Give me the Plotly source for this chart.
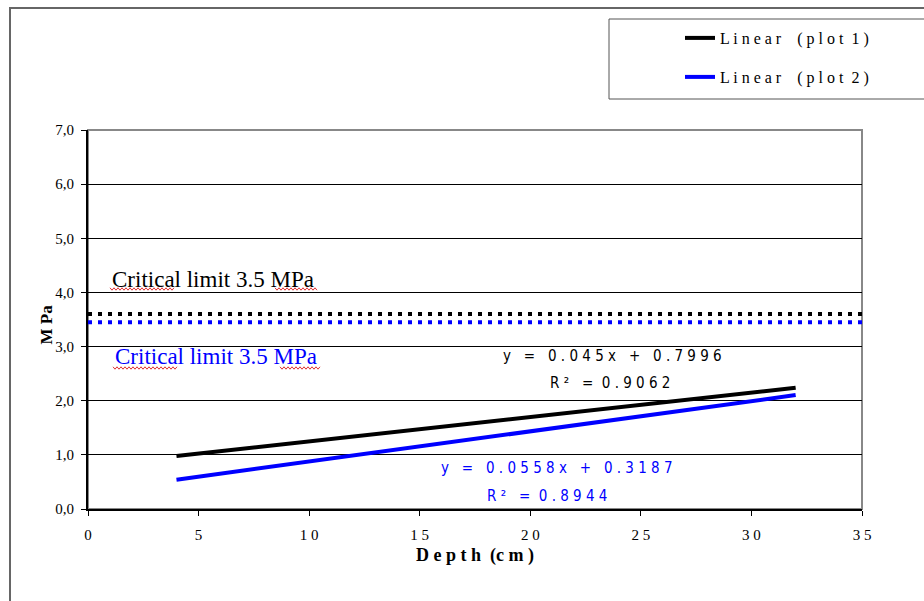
import plotly.graph_objects as go

# Depth range of the two regression fits (cm)
fit_depth = [4, 32]
# Linear fit coefficients: slope, intercept, R^2
plot1_fit = {"slope": 0.045, "intercept": 0.7996, "r2": 0.9062}
plot2_fit = {"slope": 0.0558, "intercept": 0.3187, "r2": 0.8944}
# Critical limit reference lines (MPa) as drawn for each plot
critical_x = [0, 35]
critical_plot1 = 3.6
critical_plot2 = 3.45
x_ticks = [0, 5, 10, 15, 20, 25, 30, 35]
y_ticks = [0, 1, 2, 3, 4, 5, 6, 7]

W, H = 924, 601
L, R, T, B = 88, 862, 130, 509  # plot area in pixels


def px_x(p):
    return (p - L) / (R - L)


def px_y(p):
    return (B - p) / (B - T)


def fit_line(f, xs):
    return [f["slope"] * x + f["intercept"] for x in xs]


NARROW = "DejaVu Sans Condensed, Liberation Sans Narrow, sans-serif"
SERIF = "Liberation Serif, Times New Roman, serif"

fig = go.Figure()

fig.add_trace(go.Scatter(
    x=critical_x, y=[critical_plot1] * 2, mode="lines",
    line=dict(color="black", width=4, dash="4px,6px"), showlegend=False, hoverinfo="skip"))
fig.add_trace(go.Scatter(
    x=critical_x, y=[critical_plot2] * 2, mode="lines",
    line=dict(color="#0000ff", width=4, dash="4px,6px"), showlegend=False, hoverinfo="skip"))

fig.add_trace(go.Scatter(
    x=fit_depth, y=fit_line(plot1_fit, fit_depth), mode="lines",
    line=dict(color="black", width=4), name="L i n e a r    ( p l o t  1 )", legend="legend"))
fig.add_trace(go.Scatter(
    x=fit_depth, y=fit_line(plot2_fit, fit_depth), mode="lines",
    line=dict(color="#0000ff", width=4), name="L i n e a r    ( p l o t  2 )", legend="legend2"))


def spaced(s):
    return " ".join(s)


annotations = [
    dict(x=1.0, y=4.23, xanchor="left", text="Critical limit 3.5 MPa",
         font=dict(family=SERIF, size=23, color="black")),
    dict(x=1.15, y=2.81, xanchor="left", text="Critical limit 3.5 MPa",
         font=dict(family=SERIF, size=23, color="#0000ff")),
    dict(x=23.7, y=2.83, text=spaced("y = 0.045x + 0.7996"),
         font=dict(family=NARROW, size=15, color="black")),
    dict(x=23.6, y=2.33, text=spaced("R² = ") + spaced(f"{plot1_fit['r2']:.4f}"),
         font=dict(family=NARROW, size=15, color="black")),
    dict(x=21.2, y=0.76, text=spaced("y = 0.0558x + 0.3187"),
         font=dict(family=NARROW, size=15, color="#0000ff")),
    dict(x=20.75, y=0.24, text=spaced("R² = ") + spaced(f"{plot2_fit['r2']:.4f}"),
         font=dict(family=NARROW, size=15, color="#0000ff")),
]
for a in annotations:
    a.update(xref="x", yref="y", showarrow=False)

annotations.append(dict(
    xref="paper", yref="paper", x=px_x(34), y=px_y(325), text="<b>M Pa</b>", textangle=-90,
    showarrow=False, font=dict(family=SERIF, size=17, color="black")))
annotations.append(dict(
    xref="paper", yref="paper", x=px_x(475), y=px_y(568), text="<b>D e p t h  (c m )</b>",
    showarrow=False, font=dict(family=SERIF, size=18, color="black")))


def squiggle(x0, x1, y, color="#e03030"):
    pts = []
    x = x0
    up = True
    while x <= x1:
        pts.append((px_x(x), px_y(y - 1.2 if up else y + 1.2)))
        up = not up
        x += 2
    path = "M " + " L ".join(f"{a:.5f},{b:.5f}" for a, b in pts)
    return dict(type="path", xref="paper", yref="paper", path=path,
                line=dict(color=color, width=1))


shapes = [
    # outer chart frame
    dict(type="rect", xref="paper", yref="paper", x0=px_x(10), x1=px_x(940),
         y0=px_y(8), y1=px_y(620), line=dict(color="#666666", width=2)),
    # legend frame
    dict(type="rect", xref="paper", yref="paper", x0=px_x(609), x1=px_x(940),
         y0=px_y(19), y1=px_y(99), line=dict(color="#555555", width=1)),
    # plot area frame
    dict(type="rect", xref="paper", yref="paper", x0=0, x1=1, y0=0, y1=1,
         line=dict(color="#888888", width=2), layer="below"),
    squiggle(110, 175, 289),
    squiggle(275, 317, 289),
    squiggle(113, 178, 368),
    squiggle(280, 321, 368),
]

legend_common = dict(
    xanchor="left", yanchor="middle", bgcolor="rgba(0,0,0,0)", borderwidth=0,
    font=dict(family=SERIF, size=16, color="black"), itemwidth=30,
)

fig.update_layout(
    width=W, height=H,
    margin=dict(l=L, r=W - R, t=T, b=H - B),
    paper_bgcolor="white", plot_bgcolor="white",
    separators=",.",
    showlegend=True,
    legend=dict(x=px_x(680), y=px_y(38), **legend_common),
    legend2=dict(x=px_x(680), y=px_y(77), **legend_common),
    xaxis=dict(range=[0, 35], tickvals=x_ticks, ticktext=[spaced(str(v)) for v in x_ticks],
               showgrid=False, zeroline=False, showline=True, linecolor="black", linewidth=2,
               ticks="outside", ticklen=5, tickcolor="black", ticklabelstandoff=6,
               tickfont=dict(family=SERIF, size=15, color="black")),
    yaxis=dict(range=[0, 7], tickvals=y_ticks, tickformat=".1f",
               showgrid=True, gridcolor="black", gridwidth=1, zeroline=False,
               showline=True, linecolor="black", linewidth=2,
               ticks="outside", ticklen=5, tickcolor="black", ticklabelstandoff=4,
               tickfont=dict(family=SERIF, size=15, color="black")),
    annotations=annotations,
    shapes=shapes,
)

fig.write_html("out.html")
